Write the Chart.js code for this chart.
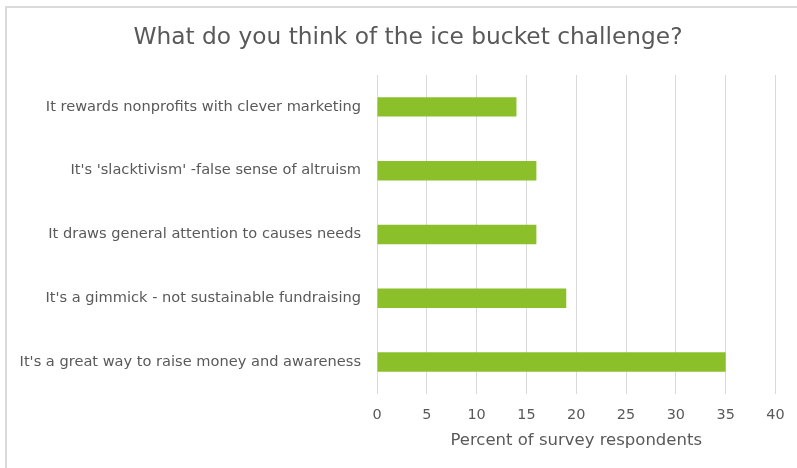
<!DOCTYPE html>
<html>
<head>
<meta charset="utf-8">
<script src="https://cdn.jsdelivr.net/npm/chart.js@4"></script>
<style>
  html, body { margin: 0; padding: 0; background: #fff; }
  body { width: 797px; height: 468px; overflow: hidden; position: relative; }
  #frame {
    position: absolute; left: 5px; top: 6px; width: 900px; height: 600px;
    border-top: 2px solid #dadada; border-left: 2px solid #dadada;
  }
  canvas { position: absolute; left: 0; top: 0; }
</style>
</head>
<body>
<div id="frame"></div>
<canvas id="chart" width="797" height="468"></canvas>
<script>
// dữ liệu
const categories = [
  "It rewards nonprofits with clever marketing",
  "It's 'slacktivism' -false sense of altruism",
  "It draws general attention to causes needs",
  "It's a gimmick - not sustainable fundraising",
  "It's a great way to raise money and awareness",
];
const percents = [14, 16, 16, 19, 35];
const xTicks = [0, 5, 10, 15, 20, 25, 30, 35, 40];

const fontFamily = "'DejaVu Sans', sans-serif";
const textColor = "#595959";

// tieu de nam lech phai mot chut so voi giua canvas
const shiftTitle = {
  id: "shiftTitle",
  afterLayout(chart) {
    const t = chart.titleBlock;
    if (t) {
      t.left = 39;
      t.right = 777;
    }
  },
};

const ctx = document.getElementById("chart").getContext("2d");
new Chart(ctx, {
  type: "bar",
  data: {
    labels: categories,
    datasets: [
      {
        label: "Percent",
        data: percents,
        backgroundColor: "#8cc02b",
        barPercentage: 0.305,
        categoryPercentage: 1,
      },
    ],
  },
  plugins: [shiftTitle],
  options: {
    indexAxis: "y",
    responsive: false,
    animation: false,
    layout: { padding: { left: 0, right: 14, top: 0, bottom: 16 } },
    plugins: {
      legend: { display: false },
      tooltip: { enabled: false },
      title: {
        display: true,
        text: "What do you think of the ice bucket challenge?",
        color: textColor,
        font: { family: fontFamily, size: 23.3, weight: "normal" },
        padding: { top: 23.6, bottom: 23.4 },
      },
    },
    scales: {
      x: {
        min: 0,
        max: 40,
        afterBuildTicks: (scale) => {
          scale.ticks = xTicks.map((v) => ({ value: v }));
        },
        afterFit: (scale) => {
          scale.height = 58;
        },
        grid: { color: "#d9d9d9", drawTicks: false },
        border: { display: false },
        ticks: {
          color: textColor,
          padding: 12.4,
          font: { family: fontFamily, size: 14.4 },
        },
        title: {
          display: true,
          text: "Percent of survey respondents",
          color: textColor,
          padding: { top: 0, bottom: 1.1 },
          font: { family: fontFamily, size: 16.5 },
        },
      },
      y: {
        afterFit: (scale) => {
          scale.width = 377;
        },
        grid: { display: false, drawTicks: false },
        border: { display: false },
        ticks: {
          color: textColor,
          padding: 16,
          font: { family: fontFamily, size: 14.6 },
        },
      },
    },
  },
});
</script>
</body>
</html>
